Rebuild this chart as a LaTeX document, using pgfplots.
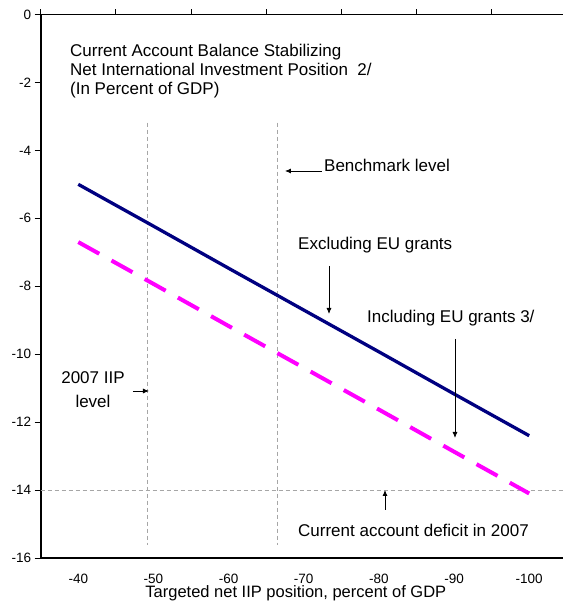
\documentclass[border=0pt]{standalone}
\usepackage{pgfplots}
\pgfplotsset{compat=1.18}
\usetikzlibrary{arrows.meta}
\usepackage{fontspec}
\setmainfont{Liberation Sans}
\definecolor{navyc}{RGB}{0,0,128}
\definecolor{mag}{RGB}{255,0,255}
\begin{document}
\begin{tikzpicture}
\begin{axis}[name=a, scale only axis, width=522.3bp, height=543.5bp,
  xmin=-0.5, xmax=6.45, ymin=-16, ymax=0,
  axis lines=left, axis line style={-, line width=1.8bp, black},
  xtick={0,1,2,3,4,5,6}, xticklabels={-40,-50,-60,-70,-80,-90,-100},
  x tick style={draw=none},
  ytick={-16,-14,-12,-10,-8,-6,-4,-2,0},
  y tick style={line width=0.8bp, black},
  tick align=outside, major tick length=6bp,
  /pgf/number format/assume math mode=true,
  ticklabel style={font=\fontsize{13.5bp}{15bp}\selectfont},
  xticklabel style={yshift=-7bp},
  xlabel={Targeted net IIP position, percent of GDP},
  xlabel style={at={(axis description cs:0.5,0)}, anchor=base, yshift=-39bp, xshift=-6bp, font=\fontsize{16.5bp}{18bp}\selectfont},
  clip=false,
]
\addplot[gray!70, line width=0.8bp, dash pattern=on 4bp off 3bp] coordinates {(0.919,-3.18) (0.919,-15.63)};
\addplot[gray!70, line width=0.8bp, dash pattern=on 4bp off 3bp] coordinates {(2.644,-3.18) (2.644,-15.63)};
\addplot[gray!70, line width=0.8bp, dash pattern=on 4bp off 3bp] coordinates {(-0.5,-14) (6.45,-14)};
\addplot[navyc, line width=3.3bp] coordinates {(0,-5.0) (1,-6.23) (2,-7.47) (3,-8.7) (4,-9.93) (5,-11.17) (6,-12.4)};
\addplot[mag, line width=4bp, dash pattern=on 24bp off 14bp] coordinates {(0,-6.7) (1,-7.93) (2,-9.17) (3,-10.4) (4,-11.63) (5,-12.87) (6,-14.1)};
\draw[line width=1.8bp] (axis cs:-0.5,0) -- (axis cs:6.45,0);
\pgfplotsinvokeforeach{-0.5,0.5,1.5,2.5,3.5,4.5,5.5}{\draw[line width=0.8bp] (axis cs:#1,0) -- ++(0pt,5bp);}
\end{axis}
\begin{scope}[shift={([xshift=-40.7bp,yshift=14.5bp]a.north west)}, x=1bp, y=-1bp,
  every node/.style={inner sep=0, font=\fontsize{17bp}{19bp}\selectfont}]
\node[anchor=base west] at (70,56.5) {Current Account Balance Stabilizing};
\node[anchor=base west] at (70,75.5) {Net International Investment Position\ \ 2/};
\node[anchor=base west] at (70,94.5) {(In Percent of GDP)};
\node[anchor=base west] at (324,172) {Benchmark level};
\draw[line width=0.8bp, -{Latex[length=6bp,width=5bp]}] (321.7,171) -- (285,171);
\node[anchor=base west] at (298,250) {Excluding EU grants};
\draw[line width=0.8bp, -{Latex[length=6bp,width=5bp]}] (329,266) -- (329,314);
\node[anchor=base west] at (367,323) {Including EU grants 3/};
\draw[line width=0.8bp, -{Latex[length=6bp,width=5bp]}] (455,339) -- (455,438);
\node[anchor=base] at (93,384) {2007 IIP};
\node[anchor=base] at (93,408) {level};
\draw[line width=0.8bp, -{Latex[length=6bp,width=5bp]}] (133,391) -- (149,391);
\node[anchor=base west] at (298,537) {Current account deficit in 2007};
\draw[line width=0.8bp, -{Latex[length=6bp,width=5bp]}] (385,510) -- (385,490);
\end{scope}
\pgfresetboundingbox
\path ([xshift=-40.7bp,yshift=14.5bp]a.north west) rectangle ([yshift=-46bp]a.south east);
\end{tikzpicture}
\end{document}
